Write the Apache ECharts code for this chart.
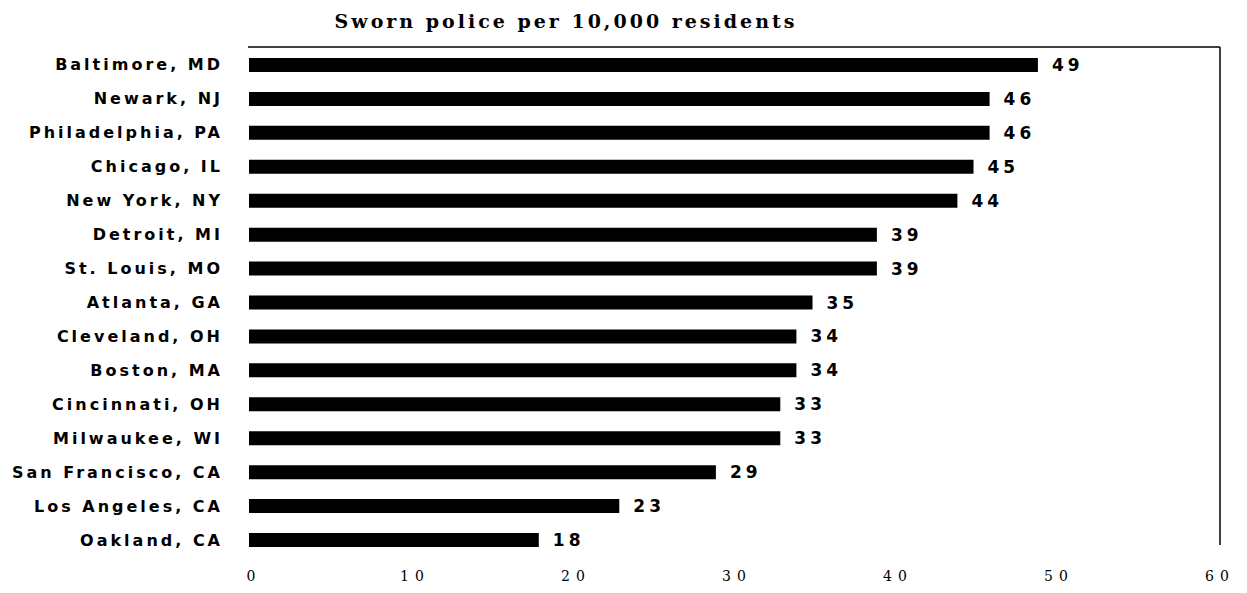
<!DOCTYPE html>
<html>
<head>
<meta charset="utf-8">
<script src="https://cdn.jsdelivr.net/npm/echarts@6/dist/echarts.min.js"></script>
<style>html,body{margin:0;padding:0;background:#fff}#c{width:1247px;height:593px}</style>
</head>
<body>
<div id="c"></div>
<script>
const titleText = 'Sworn police per 10,000 residents';
const cities = ['Baltimore, MD','Newark, NJ','Philadelphia, PA','Chicago, IL','New York, NY','Detroit, MI','St. Louis, MO','Atlanta, GA','Cleveland, OH','Boston, MA','Cincinnati, OH','Milwaukee, WI','San Francisco, CA','Los Angeles, CA','Oakland, CA'];
const officers = [49,46,46,45,44,39,39,35,34,34,33,33,29,23,18];
const xTicks = [0,10,20,30,40,50,60];

const chart = echarts.init(document.getElementById('c'), null, {renderer:'svg'});
chart.setOption({
  animation:false,
  backgroundColor:'#fff',
  title:{text:titleText,left:561,top:6,textAlign:'center',
    textStyle:{fontFamily:'DejaVu Serif',fontWeight:'bold',fontSize:19,color:'#000'}},
  grid:{left:249,right:32,top:48,bottom:36},
  xAxis:{type:'value',min:xTicks[0],max:xTicks[xTicks.length-1],interval:10,
    axisLine:{show:false},axisTick:{show:false},splitLine:{show:false},
    axisLabel:{margin:12,padding:[0,0,0,10],fontFamily:'DejaVu Serif',fontSize:14,color:'#000'}},
  yAxis:{type:'category',data:cities,inverse:true,
    axisLine:{show:false},axisTick:{show:false},
    axisLabel:{margin:26,fontFamily:'DejaVu Sans',fontWeight:'bold',fontSize:16,color:'#000'}},
  series:[{type:'bar',data:officers,barWidth:14,itemStyle:{color:'#000'},
    label:{show:true,position:'right',distance:14,fontFamily:'DejaVu Sans',fontWeight:'bold',fontSize:17,color:'#000'}}],
  graphic:[
    {type:'line',shape:{x1:248,y1:47,x2:1220,y2:47},style:{stroke:'#000',lineWidth:1.5}},
    {type:'line',shape:{x1:1220,y1:47,x2:1220,y2:545},style:{stroke:'#000',lineWidth:1.5}}
  ]
});

// widen the lettering as in the scanned original
const spacing = [['19px',3],['17px',4],['16px',3],['14px',6]];
document.querySelectorAll('#c svg text').forEach(function(t){
  const st = (t.getAttribute('style')||'') + ' ' + (t.style.font||'');
  for (const [sz,sp] of spacing){
    if (st.indexOf(sz) >= 0){ t.setAttribute('letter-spacing', sp); break; }
  }
});
</script>
</body>
</html>
